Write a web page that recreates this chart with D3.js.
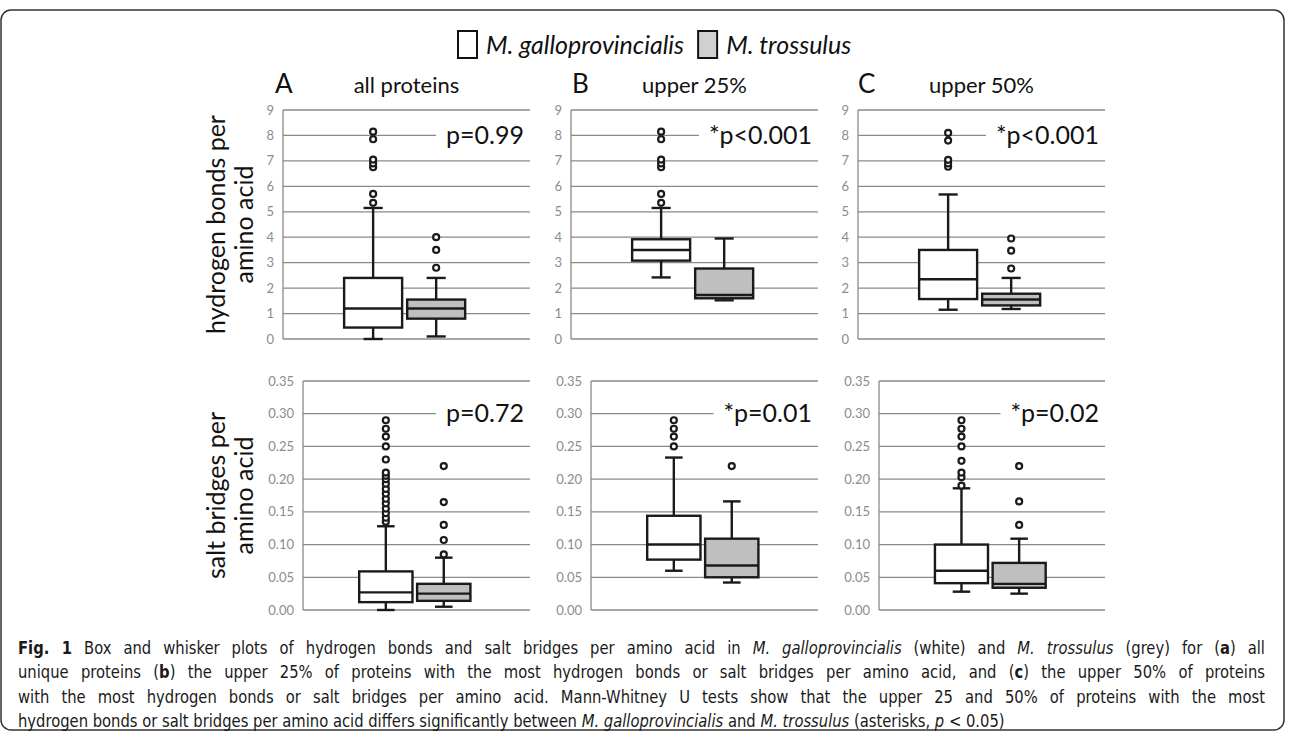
<!DOCTYPE html>
<html>
<head>
<meta charset="utf-8">
<script src="https://cdn.jsdelivr.net/npm/d3@7"></script>
<style>
  body { margin: 0; background: #fff; }
  svg { display: block; }
</style>
</head>
<body>
<svg width="1293" height="737"></svg>
<script>
// ---- data ----
const species = ['M. galloprovincialis', 'M. trossulus'];
const panelLetters = ['A', 'B', 'C'];
const panelTitles = ['all proteins', 'upper 25%', 'upper 50%'];

const hbTicks = [0, 1, 2, 3, 4, 5, 6, 7, 8, 9];
const sbTicks = [0, 0.05, 0.10, 0.15, 0.20, 0.25, 0.30, 0.35];

const hbPValues = ['p=0.99', '*p<0.001', '*p<0.001'];
const sbPValues = ['p=0.72', '*p=0.01', '*p=0.02'];

// box stats: [min, q1, median, q3, max]
const hbGallo = [
  [0.0, 0.45, 1.2, 2.4, 5.15],
  [2.42, 3.08, 3.5, 3.92, 5.15],
  [1.15, 1.57, 2.35, 3.5, 5.68]
];
const hbTross = [
  [0.1, 0.8, 1.2, 1.55, 2.4],
  [1.52, 1.6, 1.73, 2.77, 3.95],
  [1.18, 1.32, 1.55, 1.78, 2.4]
];
const hbGalloOut = [
  [5.35, 5.7, 6.75, 6.9, 7.05, 7.85, 8.15],
  [5.35, 5.7, 6.75, 6.9, 7.05, 7.85, 8.15],
  [6.77, 6.9, 7.04, 7.8, 8.1]
];
const hbTrossOut = [
  [2.8, 3.5, 4.0],
  [],
  [2.77, 3.47, 3.95]
];

const sbGallo = [
  [0.0, 0.012, 0.027, 0.059, 0.128],
  [0.06, 0.077, 0.10, 0.144, 0.233],
  [0.028, 0.041, 0.06, 0.10, 0.186]
];
const sbTross = [
  [0.005, 0.014, 0.025, 0.04, 0.08],
  [0.042, 0.05, 0.068, 0.109, 0.166],
  [0.025, 0.034, 0.04, 0.072, 0.109]
];
const sbGalloOut = [
  [0.135, 0.141, 0.148, 0.155, 0.163, 0.17, 0.178, 0.185, 0.193, 0.2, 0.205, 0.21, 0.23, 0.25, 0.265, 0.277, 0.29],
  [0.25, 0.265, 0.277, 0.29],
  [0.19, 0.203, 0.21, 0.228, 0.25, 0.265, 0.277, 0.29]
];
const sbTrossOut = [
  [0.085, 0.107, 0.13, 0.165, 0.22],
  [0.22],
  [0.13, 0.166, 0.22]
];

// ---- layout ----
const fillColors = ['#ffffff', '#bfbfbf'];
const chartFont = 'Lato, "Open Sans", sans-serif';

const svg = d3.select('svg');

// figure frame
svg.append('rect')
  .attr('x', 1).attr('y', 10)
  .attr('width', 1283).attr('height', 720)
  .attr('rx', 10)
  .attr('fill', 'none')
  .attr('stroke', '#333')
  .attr('stroke-width', 1.5);

const rows = [
  {
    lefts: [283, 571, 858], top: 110, bottom: 339,
    domain: [0, 9], ticks: hbTicks, fmt: d3.format('d'),
    gallo: hbGallo, tross: hbTross, galloOut: hbGalloOut, trossOut: hbTrossOut,
    pvals: hbPValues, pAt: 8,
    title: ['hydrogen bonds per', 'amino acid']
  },
  {
    lefts: [303, 591, 879], top: 381, bottom: 610,
    domain: [0, 0.35], ticks: sbTicks, fmt: d3.format('.2f'),
    gallo: sbGallo, tross: sbTross, galloOut: sbGalloOut, trossOut: sbTrossOut,
    pvals: sbPValues, pAt: 0.30,
    title: ['salt bridges per', 'amino acid']
  }
];
const rights = [530, 818, 1105];

rows.forEach((row, ri) => {
  const y = d3.scaleLinear().domain(row.domain).range([row.bottom, row.top]);

  // y title, two rotated lines
  const cy = (row.top + row.bottom) / 2;
  row.title.forEach((t, li) => {
    svg.append('text')
      .attr('transform', `translate(${216 + li * 28},${cy}) rotate(-90)`)
      .attr('text-anchor', 'middle')
      .attr('dy', '0.35em')
      .style('font-family', chartFont)
      .style('font-size', '25px')
      .attr('fill', '#111')
      .text(t);
  });

  d3.range(3).forEach(pi => {
    const left = row.lefts[pi], right = rights[pi], w = right - left;
    const g = svg.append('g');

    const x = d3.scaleBand()
      .domain(species)
      .range([left + 0.2475 * w, left + 0.7375 * w])
      .paddingInner(0.08);

    // gridlines
    g.selectAll('line.grid')
      .data(row.ticks)
      .join('line')
      .attr('class', 'grid')
      .attr('x1', left).attr('x2', right)
      .attr('y1', d => y(d)).attr('y2', d => y(d))
      .attr('stroke', '#8a8a8a')
      .attr('stroke-width', 1.3);

    // left axis line
    g.append('line')
      .attr('x1', left).attr('x2', left)
      .attr('y1', y(row.domain[0])).attr('y2', y(row.domain[1]))
      .attr('stroke', '#8a8a8a')
      .attr('stroke-width', 1.3);

    // tick labels
    g.selectAll('text.tick')
      .data(row.ticks)
      .join('text')
      .attr('class', 'tick')
      .attr('x', left - 9)
      .attr('y', d => y(d))
      .attr('dy', '0.35em')
      .attr('text-anchor', 'end')
      .style('font-family', chartFont)
      .style('font-size', '13px')
      .attr('fill', '#8c8c8c')
      .text(d => row.fmt(d));

    // p value label with white box over the gridline
    const pLabel = g.append('text')
      .attr('x', right - 6)
      .attr('y', y(row.pAt))
      .attr('dy', '0.35em')
      .attr('text-anchor', 'end')
      .style('font-family', chartFont)
      .style('font-size', '25px')
      .attr('fill', '#111')
      .text(row.pvals[pi]);
    const pw = pLabel.node().getComputedTextLength();
    g.insert('rect', 'text')
      .attr('x', right - 6 - pw - 10)
      .attr('y', y(row.pAt) - 15)
      .attr('width', pw + 16)
      .attr('height', 30)
      .attr('fill', '#fff');

    // boxes
    const stats = [row.gallo[pi], row.tross[pi]];
    const outs = [row.galloOut[pi], row.trossOut[pi]];
    const bw = x.bandwidth();
    const capW = bw * 0.33;

    species.forEach((sp, si) => {
      const s = stats[si];
      const cx = x(sp) + bw / 2;
      const bg = svg.append('g')
        .attr('stroke', '#1a1a1a')
        .attr('stroke-width', 2.4);

      // whiskers
      bg.append('line')
        .attr('x1', cx).attr('x2', cx)
        .attr('y1', y(s[0])).attr('y2', y(s[1]));
      bg.append('line')
        .attr('x1', cx).attr('x2', cx)
        .attr('y1', y(s[3])).attr('y2', y(s[4]));
      [s[0], s[4]].forEach(v => {
        bg.append('line')
          .attr('x1', cx - capW / 2).attr('x2', cx + capW / 2)
          .attr('y1', y(v)).attr('y2', y(v));
      });

      // box
      bg.append('rect')
        .attr('x', x(sp))
        .attr('y', y(s[3]))
        .attr('width', bw)
        .attr('height', y(s[1]) - y(s[3]))
        .attr('fill', fillColors[si]);
      bg.append('line')
        .attr('x1', x(sp)).attr('x2', x(sp) + bw)
        .attr('y1', y(s[2])).attr('y2', y(s[2]));

      // outliers
      bg.selectAll('circle')
        .data(outs[si])
        .join('circle')
        .attr('cx', cx)
        .attr('cy', d => y(d))
        .attr('r', 3)
        .attr('fill', '#fff')
        .attr('stroke-width', 2.2);
    });

    // panel letter and title (top row only)
    if (ri === 0) {
      svg.append('text')
        .attr('x', [275, 572, 858][pi])
        .attr('y', 93)
        .style('font-family', chartFont)
        .style('font-size', '26px')
        .attr('fill', '#111')
        .text(panelLetters[pi]);
      svg.append('text')
        .attr('x', (left + right) / 2)
        .attr('y', 93)
        .attr('text-anchor', 'middle')
        .style('font-family', chartFont)
        .style('font-size', '22px')
        .attr('fill', '#111')
        .text(panelTitles[pi]);
    }
  });
});

// ---- legend ----
const legend = svg.append('g');
let lx = 458;
species.forEach((sp, si) => {
  legend.append('rect')
    .attr('x', lx).attr('y', 31)
    .attr('width', 19).attr('height', 27)
    .attr('fill', si === 0 ? '#fff' : '#d0d0d0')
    .attr('stroke', '#111')
    .attr('stroke-width', 2);
  const t = legend.append('text')
    .attr('x', lx + 28).attr('y', 45)
    .attr('dy', '0.35em')
    .style('font-family', chartFont)
    .style('font-style', 'italic')
    .style('font-size', '25px')
    .attr('fill', '#111')
    .text(sp);
  lx += 28 + t.node().getComputedTextLength() + 14;
});

// ---- caption (condensed, justified except last line) ----
const captionLines = [
  [['Fig. 1', 'b'], [' Box and whisker plots of hydrogen bonds and salt bridges per amino acid in ', ''], ['M. galloprovincialis', 'i'], [' (white) and ', ''], ['M. trossulus', 'i'], [' (grey) for (', ''], ['a', 'b'], [') all', '']],
  [['unique proteins (', ''], ['b', 'b'], [') the upper 25% of proteins with the most hydrogen bonds or salt bridges per amino acid, and (', ''], ['c', 'b'], [') the upper 50% of proteins', '']],
  [['with the most hydrogen bonds or salt bridges per amino acid. Mann-Whitney U tests show that the upper 25 and 50% of proteins with the most', '']],
  [['hydrogen bonds or salt bridges per amino acid differs significantly between ', ''], ['M. galloprovincialis', 'i'], [' and ', ''], ['M. trossulus', 'i'], [' (asterisks, ', ''], ['p', 'i'], [' < 0.05)', '']]
];
const captionFont = '"Liberation Sans Narrow", "DejaVu Sans Condensed", sans-serif';
const captionX = 18, captionFull = 1247, lastLineWidth = 987;

const capG = svg.append('g');
const capTexts = captionLines.map((parts, i) => {
  const t = capG.append('text')
    .attr('x', 0)
    .attr('y', 654 + i * 24.5)
    .style('font-family', captionFont)
    .style('font-size', '18px')
    .attr('fill', '#1a1a1a');
  parts.forEach(([txt, st]) => {
    t.append('tspan')
      .style('font-weight', st === 'b' ? 'bold' : 'normal')
      .style('font-style', st === 'i' ? 'italic' : 'normal')
      .text(txt);
  });
  return t;
});

// squeeze horizontally so the unjustified last line has the reference width
const sx = lastLineWidth / capTexts[3].node().getComputedTextLength();
capG.attr('transform', `translate(${captionX},0) scale(${sx},1)`);
capTexts.forEach((t, i) => {
  if (i < 3) {
    const natural = t.node().getComputedTextLength();
    const spaces = captionLines[i].map(p => p[0]).join('').split(' ').length - 1;
    const ws = Math.max(0, (captionFull / sx - natural) / spaces);
    t.style('word-spacing', ws + 'px');
  }
});
</script>
</body>
</html>
